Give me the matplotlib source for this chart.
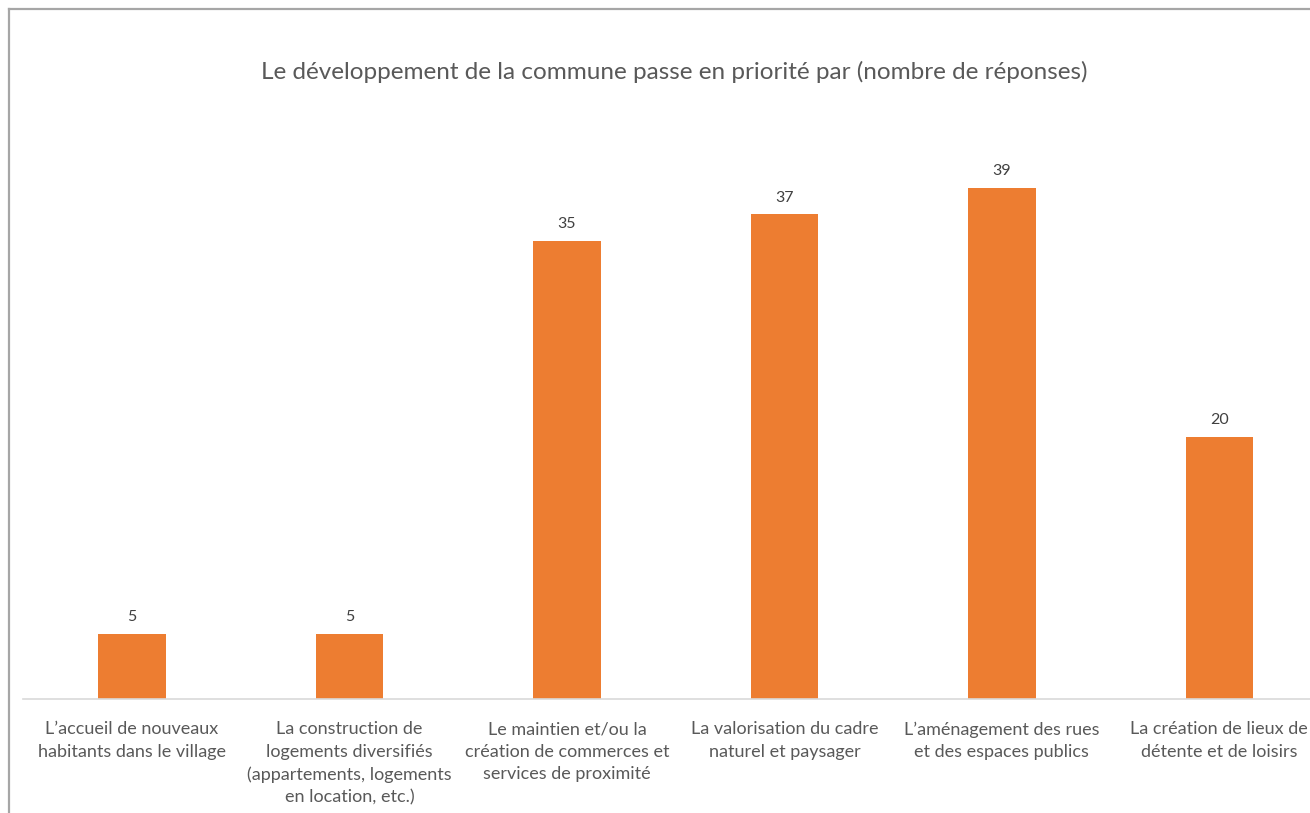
import matplotlib.pyplot as plt
from matplotlib.lines import Line2D

# Donnees du graphique
categories = [
    "L\u2019accueil de nouveaux\nhabitants dans le village",
    "La construction de\nlogements diversifiés\n(appartements, logements\nen location, etc.)",
    "Le maintien et/ou la\ncréation de commerces et\nservices de proximité",
    "La valorisation du cadre\nnaturel et paysager",
    "L\u2019aménagement des rues\net des espaces publics",
    "La création de lieux de\ndétente et de loisirs",
]
reponses = [5, 5, 35, 37, 39, 20]

plt.rcParams['font.family'] = ['Lato', 'DejaVu Sans']

fig = plt.figure(figsize=(13.1, 8.13), dpi=100)
ax = fig.add_axes([0.0178, 0.1402, 0.996, 0.725])

x = range(len(reponses))
bars = ax.bar(x, reponses, width=0.31, color='#ED7D31', zorder=2)

for xi, v in zip(x, reponses):
    ax.text(xi, v + 0.75, str(v), ha='center', va='bottom', fontsize=11.5, color='#404040')

ax.set_xlim(-0.5, 5.5)
ax.set_ylim(0, 45)
ax.set_xticks(list(x))
ax.set_xticklabels(categories, fontsize=13, color='#595959', linespacing=1.49)
ax.tick_params(axis='x', length=0, pad=16)
ax.set_yticks([])
for s in ['top', 'right', 'left']:
    ax.spines[s].set_visible(False)
ax.spines['bottom'].set_color('#d9d9d9')
ax.spines['bottom'].set_linewidth(1.2)

fig.text(0.5145, 0.912, "Le développement de la commune passe en priorité par (nombre de réponses)",
         ha='center', va='center', fontsize=17.5, color='#595959')

# cadre du graphique (coupe a droite et en bas)
fig.add_artist(Line2D([0.0069, 0.0069], [0.0, 0.989], color='#a6a6a6', lw=1.6, transform=fig.transFigure))
fig.add_artist(Line2D([0.0069, 1.0], [0.989, 0.989], color='#a6a6a6', lw=1.6, transform=fig.transFigure))

fig.savefig('out.png', dpi=100)
